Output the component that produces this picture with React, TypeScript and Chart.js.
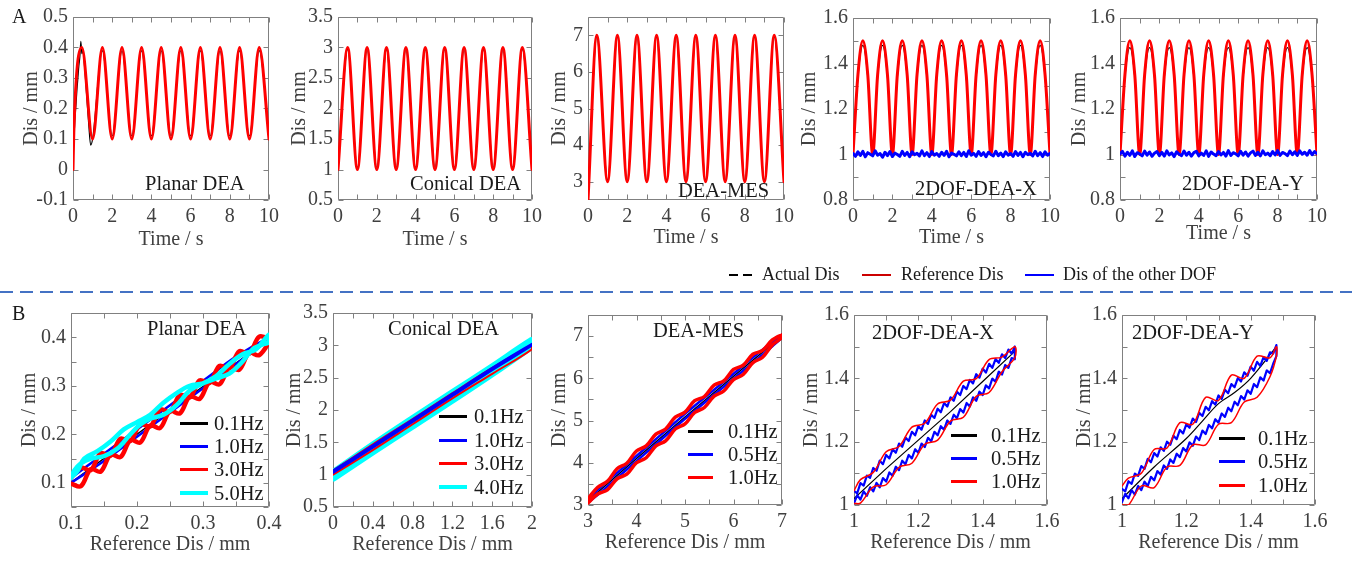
import React, { useEffect, useRef } from "react";
import { Chart, registerables } from "chart.js";
Chart.register(...registerables);

const FONT = "'Liberation Serif', 'Times New Roman', Times, serif";
const TICK_COLOR = "#404040";
const BOX_COLOR = "#808080";
const TEXT_COLOR = "#1a1a1a";
const RED = "#ff0000";
const BLUE = "#0000ff";
const CYAN = "#00ffff";
const BLACK = "#000000";

// ---------------- Row A : time responses ----------------
const timeA = [0, 0.5, 1, 1.5, 2, 2.5, 3, 3.5, 4, 4.5, 5, 5.5, 6, 6.5, 7, 7.5, 8, 8.5, 9, 9.5, 10];

const planarRefT = [0, 0.04, 0.45, 1, 1.5, 2, 2.5, 3, 3.5, 4, 4.5, 5, 5.5, 6, 6.5, 7, 7.5, 8, 8.5, 9, 9.5, 10];
const planarRef = [0, 0.12, 0.4, 0.1, 0.4, 0.1, 0.4, 0.1, 0.4, 0.1, 0.4, 0.1, 0.4, 0.1, 0.4, 0.1, 0.4, 0.1, 0.4, 0.1, 0.4, 0.1];
const planarActT = [0, 0.03, 0.06, 0.1, 0.15, 0.2, 0.25, 0.3, 0.35, 0.4, 0.45, 0.5, 0.6, 0.7, 0.8, 0.9, 1, 1.5, 2, 2.5, 3, 3.5, 4, 4.5, 5, 5.5, 6, 6.5, 7, 7.5, 8, 8.5, 9, 9.5, 10];
const planarAct = [0, 0.14, 0.12, 0.17, 0.21, 0.26, 0.3, 0.34, 0.37, 0.42, 0.38, 0.39, 0.33, 0.24, 0.15, 0.08, 0.1, 0.39, 0.11, 0.39, 0.11, 0.39, 0.11, 0.39, 0.11, 0.39, 0.11, 0.39, 0.11, 0.39, 0.11, 0.39, 0.11, 0.39, 0.11];

const conicalRef = [1, 3, 1, 3, 1, 3, 1, 3, 1, 3, 1, 3, 1, 3, 1, 3, 1, 3, 1, 3, 1];
const conicalAct = [1, 2.97, 1.03, 2.97, 1.03, 2.97, 1.03, 2.97, 1.03, 2.97, 1.03, 2.97, 1.03, 2.97, 1.03, 2.97, 1.03, 2.97, 1.03, 2.97, 1.03];

const mesT = [0, 0.45, 1, 1.5, 2, 2.5, 3, 3.5, 4, 4.5, 5, 5.5, 6, 6.5, 7, 7.5, 8, 8.5, 9, 9.5, 10];
const mesRef = [2.5, 7, 3, 7, 3, 7, 3, 7, 3, 7, 3, 7, 3, 7, 3, 7, 3, 7, 3, 7, 3];
const mesAct = [2.5, 6.95, 3.05, 6.95, 3.05, 6.95, 3.05, 6.95, 3.05, 6.95, 3.05, 6.95, 3.05, 6.95, 3.05, 6.95, 3.05, 6.95, 3.05, 6.95, 3.05];

const dofT = [0, 0.25, 0.5, 0.75, 1, 1.25, 1.5, 1.75, 2, 2.25, 2.5, 2.75, 3, 3.25, 3.5, 3.75, 4, 4.25, 4.5, 4.75, 5, 5.25, 5.5, 5.75, 6, 6.25, 6.5, 6.75, 7, 7.25, 7.5, 7.75, 8, 8.25, 8.5, 8.75, 9, 9.25, 9.5, 9.75, 10];
const dofRef = [1, 1.35, 1.5, 1.35, 1, 1.35, 1.5, 1.35, 1, 1.35, 1.5, 1.35, 1, 1.35, 1.5, 1.35, 1, 1.35, 1.5, 1.35, 1, 1.35, 1.5, 1.35, 1, 1.35, 1.5, 1.35, 1, 1.35, 1.5, 1.35, 1, 1.35, 1.5, 1.35, 1, 1.35, 1.5, 1.35, 1];
const dofXAct = [1, 1.34, 1.48, 1.34, 1, 1.34, 1.48, 1.34, 1, 1.34, 1.48, 1.34, 1, 1.34, 1.48, 1.34, 1, 1.34, 1.48, 1.34, 1, 1.34, 1.48, 1.34, 1, 1.34, 1.48, 1.34, 1, 1.34, 1.48, 1.34, 1, 1.34, 1.48, 1.34, 1, 1.34, 1.48, 1.34, 1];
const dofYAct = [1, 1.34, 1.47, 1.34, 1, 1.34, 1.47, 1.34, 1, 1.34, 1.47, 1.34, 1, 1.34, 1.47, 1.34, 1, 1.34, 1.47, 1.34, 1, 1.34, 1.47, 1.34, 1, 1.34, 1.47, 1.34, 1, 1.34, 1.47, 1.34, 1, 1.34, 1.47, 1.34, 1, 1.34, 1.47, 1.34, 1];

const NOISE_DT = 0.125; // sampling interval of the other-DOF record (s)
const dofXOther = [
  1.005, 0.992, 1.012, 0.996, 1.014, 0.990, 1.008, 1.001, 0.994, 1.016,
  0.997, 1.004, 0.988, 1.010, 0.995, 1.013, 0.991, 1.006, 1.000, 0.992,
  1.014, 0.996, 1.009, 0.990, 1.012, 0.999, 1.005, 0.994, 1.016, 0.995,
  1.008, 0.991, 1.013, 0.997, 1.004, 0.992, 1.010, 0.996, 1.014, 0.990,
  1.006, 1.001, 0.994, 1.012, 0.995, 1.009, 0.991, 1.016, 0.997, 1.005,
  0.992, 1.013, 0.996, 1.008, 0.990, 1.010, 1.000, 0.994, 1.014, 0.995,
  1.006, 0.991, 1.012, 0.997, 1.004, 0.992, 1.013, 0.996, 1.009, 0.990,
  1.010, 0.999, 1.005, 0.994, 1.014, 0.995, 1.008, 0.991, 1.012, 0.997,
  1.005,
];
const dofYOther = [
  1.002, 1.014, 0.993, 1.010, 0.996, 1.016, 0.991, 1.008, 1.003, 0.994,
  1.015, 0.997, 1.011, 0.992, 1.006, 1.013, 0.995, 1.009, 0.993, 1.016,
  0.998, 1.007, 0.991, 1.012, 1.001, 0.995, 1.015, 0.997, 1.010, 0.993,
  1.008, 1.014, 0.994, 1.006, 0.996, 1.016, 0.992, 1.011, 1.002, 0.995,
  1.013, 0.998, 1.009, 0.993, 1.017, 0.996, 1.008, 1.003, 0.994, 1.014,
  0.997, 1.011, 0.993, 1.007, 1.015, 0.996, 1.010, 0.994, 1.016, 0.999,
  1.006, 0.995, 1.013, 0.998, 1.017, 0.996, 1.009, 1.004, 0.995, 1.015,
  0.999, 1.012, 0.996, 1.016, 1.001, 1.010, 0.997, 1.017, 0.999, 1.013,
  1.004,
];
const otherT = dofXOther.map((_, i) => i * NOISE_DT);

// ---------------- Row B : actual vs reference ----------------
// Planar DEA
const b1X = [0.1, 0.115, 0.13, 0.145, 0.16, 0.175, 0.19, 0.205, 0.22, 0.235, 0.25, 0.265, 0.28, 0.295, 0.31, 0.325, 0.34, 0.355, 0.37, 0.385, 0.4];
const b1RedUp = [0.11, 0.131, 0.126, 0.161, 0.156, 0.191, 0.186, 0.221, 0.216, 0.251, 0.246, 0.281, 0.276, 0.311, 0.306, 0.341, 0.336, 0.371, 0.366, 0.401, 0.396];
const b1RedLow = [0.098, 0.093, 0.128, 0.123, 0.158, 0.153, 0.188, 0.183, 0.218, 0.213, 0.248, 0.243, 0.278, 0.273, 0.308, 0.303, 0.338, 0.333, 0.368, 0.363, 0.39];
const b1BlueX = [0.1, 0.15, 0.2, 0.25, 0.3, 0.35, 0.4];
const b1BlueUp = [0.11, 0.16, 0.21, 0.26, 0.31, 0.36, 0.4];
const b1BlueLow = [0.1, 0.145, 0.195, 0.245, 0.295, 0.345, 0.395];
const b1BlackX = [0.1, 0.25, 0.4];
const b1Black = [0.1, 0.25, 0.395];
const b1CyanX = [0.1, 0.105, 0.115, 0.13, 0.15, 0.17, 0.19, 0.205, 0.22, 0.24, 0.26, 0.28, 0.3, 0.32, 0.34, 0.36, 0.375, 0.39, 0.4, 0.4,
  0.38, 0.36, 0.34, 0.32, 0.3, 0.28, 0.26, 0.24, 0.22, 0.2, 0.18, 0.16, 0.14, 0.12, 0.11, 0.1];
const b1CyanY = [0.11, 0.125, 0.14, 0.15, 0.155, 0.17, 0.2, 0.22, 0.232, 0.24, 0.26, 0.29, 0.305, 0.315, 0.325, 0.35, 0.375, 0.385, 0.39, 0.405,
  0.375, 0.365, 0.345, 0.32, 0.305, 0.3, 0.285, 0.265, 0.24, 0.225, 0.21, 0.185, 0.165, 0.15, 0.125, 0.11];

// Conical DEA
const b2X = [0, 0.4, 0.8, 1.2, 1.6, 2];
const b2Black = [1.0, 1.4, 1.8, 2.2, 2.6, 3.0];
const b2BlueUp = [1.06, 1.45, 1.85, 2.25, 2.65, 3.02];
const b2BlueLow = [1.03, 1.42, 1.82, 2.22, 2.62, 3.0];
const b2RedUp = [1.06, 1.47, 1.86, 2.26, 2.65, 3.0];
const b2RedLow = [1.0, 1.38, 1.78, 2.18, 2.56, 2.94];
const b2CyanUp = [1.0, 1.43, 1.84, 2.24, 2.64, 3.05];
const b2CyanLow = [0.97, 1.38, 1.78, 2.18, 2.59, 3.02];

// DEA-MES
const b3X = [3.0, 3.2, 3.4, 3.6, 3.8, 4.0, 4.2, 4.4, 4.6, 4.8, 5.0, 5.2, 5.4, 5.6, 5.8, 6.0, 6.2, 6.4, 6.6, 6.8, 7.0];
const b3RedUp = [3.15, 3.42, 3.56, 3.86, 3.99, 4.28, 4.40, 4.68, 4.80, 5.08, 5.20, 5.47, 5.57, 5.84, 5.94, 6.21, 6.31, 6.57, 6.66, 6.91, 7.03];
const b3RedLow = [3.05, 3.26, 3.36, 3.62, 3.73, 4.00, 4.12, 4.40, 4.52, 4.80, 4.92, 5.19, 5.31, 5.58, 5.70, 5.97, 6.09, 6.37, 6.50, 6.79, 6.97];
const b3BlueUp = [3.14, 3.36, 3.56, 3.76, 3.96, 4.16, 4.36, 4.56, 4.76, 4.96, 5.16, 5.35, 5.54, 5.73, 5.92, 6.11, 6.3, 6.49, 6.68, 6.86, 7.03];
const b3BlueLow = [3.06, 3.24, 3.44, 3.64, 3.84, 4.04, 4.24, 4.44, 4.64, 4.84, 5.04, 5.23, 5.42, 5.61, 5.8, 5.99, 6.18, 6.37, 6.56, 6.76, 6.97];
const b3BlackX = [3, 4, 5, 6, 7];
const b3Black = [3.1, 4.1, 5.08, 6.05, 7.0];

// 2DOF-DEA-X
const b4X = [
  1.00, 1.01, 1.02, 1.03, 1.04, 1.05, 1.06, 1.07, 1.08, 1.09,
  1.10, 1.11, 1.12, 1.13, 1.14, 1.15, 1.16, 1.17, 1.18, 1.19,
  1.20, 1.21, 1.22, 1.23, 1.24, 1.25, 1.26, 1.27, 1.28, 1.29,
  1.30, 1.31, 1.32, 1.33, 1.34, 1.35, 1.36, 1.37, 1.38, 1.39,
  1.40, 1.41, 1.42, 1.43, 1.44, 1.45, 1.46, 1.47, 1.48, 1.49,
  1.50,
];
const b4BlueUp = [
  1.045, 1.037, 1.069, 1.061, 1.093, 1.086, 1.117, 1.108, 1.140, 1.129,
  1.158, 1.147, 1.176, 1.165, 1.194, 1.184, 1.213, 1.202, 1.231, 1.220,
  1.249, 1.238, 1.267, 1.256, 1.285, 1.275, 1.304, 1.293, 1.322, 1.311,
  1.340, 1.329, 1.358, 1.347, 1.376, 1.366, 1.395, 1.384, 1.413, 1.402,
  1.431, 1.418, 1.446, 1.433, 1.461, 1.449, 1.476, 1.464, 1.491, 1.478,
  1.500,
];
const b4BlueLow = [
  1.005, 1.031, 1.017, 1.043, 1.029, 1.056, 1.043, 1.070, 1.056, 1.085,
  1.074, 1.103, 1.092, 1.121, 1.110, 1.140, 1.129, 1.158, 1.147, 1.176,
  1.165, 1.194, 1.183, 1.212, 1.201, 1.231, 1.220, 1.249, 1.238, 1.267,
  1.256, 1.285, 1.274, 1.303, 1.292, 1.322, 1.311, 1.340, 1.329, 1.358,
  1.347, 1.378, 1.368, 1.399, 1.389, 1.421, 1.412, 1.442, 1.433, 1.464,
  1.460,
];
const b4RedX = [1.00, 1.02, 1.06, 1.10, 1.14, 1.18, 1.22, 1.26, 1.30, 1.34, 1.38, 1.42, 1.46, 1.50];
const b4RedUp = [1.045, 1.080, 1.103, 1.168, 1.185, 1.246, 1.258, 1.319, 1.331, 1.391, 1.399, 1.459, 1.467, 1.500];
const b4RedLow = [1.005, 1.006, 1.057, 1.064, 1.119, 1.132, 1.192, 1.205, 1.265, 1.277, 1.343, 1.355, 1.421, 1.465];
const b4BlackX = [1, 1.1, 1.2, 1.3, 1.4, 1.5];
const b4Black = [1.02, 1.115, 1.205, 1.295, 1.39, 1.485];

// 2DOF-DEA-Y
const b5X = [
  1.00, 1.01, 1.02, 1.03, 1.04, 1.05, 1.06, 1.07, 1.08, 1.09,
  1.10, 1.11, 1.12, 1.13, 1.14, 1.15, 1.16, 1.17, 1.18, 1.19,
  1.20, 1.21, 1.22, 1.23, 1.24, 1.25, 1.26, 1.27, 1.28, 1.29,
  1.30, 1.31, 1.32, 1.33, 1.34, 1.35, 1.36, 1.37, 1.38, 1.39,
  1.40, 1.41, 1.42, 1.43, 1.44, 1.45, 1.46, 1.47, 1.48,
];
const b5BlueUp = [
  1.051, 1.043, 1.075, 1.067, 1.099, 1.092, 1.123, 1.114, 1.146, 1.135,
  1.164, 1.153, 1.182, 1.171, 1.200, 1.190, 1.219, 1.208, 1.237, 1.226,
  1.255, 1.244, 1.273, 1.262, 1.291, 1.281, 1.310, 1.299, 1.328, 1.317,
  1.346, 1.335, 1.364, 1.353, 1.382, 1.372, 1.401, 1.390, 1.419, 1.408,
  1.437, 1.424, 1.452, 1.439, 1.467, 1.455, 1.482, 1.478, 1.505,
];
const b5BlueLow = [
  1.009, 1.035, 1.021, 1.047, 1.033, 1.060, 1.047, 1.074, 1.060, 1.089,
  1.078, 1.107, 1.096, 1.125, 1.114, 1.144, 1.133, 1.162, 1.151, 1.180,
  1.169, 1.198, 1.187, 1.216, 1.205, 1.235, 1.224, 1.253, 1.242, 1.271,
  1.260, 1.289, 1.278, 1.307, 1.296, 1.326, 1.315, 1.344, 1.333, 1.362,
  1.351, 1.382, 1.372, 1.403, 1.393, 1.425, 1.416, 1.446, 1.470,
];
const b5RedX = [1.00, 1.02, 1.06, 1.10, 1.14, 1.18, 1.22, 1.26, 1.30, 1.34, 1.38, 1.42, 1.46, 1.48];
const b5RedUp = [1.06, 1.085, 1.10, 1.175, 1.18, 1.26, 1.255, 1.34, 1.33, 1.41, 1.40, 1.47, 1.465, 1.50];
const b5RedLow = [1.0, 1.0, 1.06, 1.055, 1.12, 1.125, 1.19, 1.19, 1.255, 1.26, 1.325, 1.34, 1.405, 1.47];
const b5BlackX = [1, 1.1, 1.2, 1.25, 1.3, 1.35, 1.4, 1.48];
const b5Black = [1.02, 1.12, 1.21, 1.265, 1.32, 1.355, 1.40, 1.50];

// ---------------- tick labels ----------------
const timeTicks = [0, 1, 2, 3, 4, 5, 6, 7, 8, 9, 10];
const timeLabels = ["0", "", "2", "", "4", "", "6", "", "8", "", "10"];

// ---------------- helpers ----------------
type Curve = "mono" | "smooth" | "straight";
interface Trace { xs: number[]; ys: number[]; color: string; width: number; curve: Curve; }
const trace = (xs: number[], ys: number[], color: string, width: number, curve: Curve): Trace => ({ xs, ys, color, width, curve });
const loop = (xs: number[], up: number[], low: number[], color: string, width: number, curve: Curve): Trace => ({
  xs: [...xs, ...xs.slice().reverse()],
  ys: [...up, ...low.slice().reverse()],
  color, width, curve,
});

interface PanelSpec {
  plot: [number, number, number, number];
  yTitleDist: number;
  xTitleDist: number;
  xr: [number, number];
  yr: [number, number];
  xTicks: number[]; xLabels: string[];
  yTicks: number[]; yLabels: string[];
  xTitle: string; yTitle: string;
  traces: Trace[]; // first = drawn on top
}

const boxPlugin = {
  id: "matlabBox",
  beforeDatasetsDraw(chart: any) {
    const { ctx, chartArea: a, scales } = chart;
    const L = Math.round(a.left) + 0.5, R = Math.round(a.right) - 0.5;
    const T = Math.round(a.top) + 0.5, B = Math.round(a.bottom) - 0.5;
    const len = 5;
    ctx.save();
    ctx.strokeStyle = BOX_COLOR;
    ctx.lineWidth = 1;
    ctx.beginPath();
    ctx.rect(L, T, R - L, B - T);
    for (const tk of scales.x.ticks) {
      const p = Math.round(scales.x.getPixelForValue(tk.value)) + 0.5;
      ctx.moveTo(p, B); ctx.lineTo(p, B - len);
      ctx.moveTo(p, T); ctx.lineTo(p, T + len);
    }
    for (const tk of scales.y.ticks) {
      const p = Math.round(scales.y.getPixelForValue(tk.value)) + 0.5;
      ctx.moveTo(L, p); ctx.lineTo(L + len, p);
      ctx.moveTo(R, p); ctx.lineTo(R - len, p);
    }
    ctx.stroke();
    ctx.restore();
  },
};

const PAD_T = 14;
const PAD_R = 20;

function Panel({ spec }: { spec: PanelSpec }) {
  const ref = useRef<HTMLCanvasElement>(null);
  const [l, t, r, b] = spec.plot;
  const yW = spec.yTitleDist + 14;
  const xH = spec.xTitleDist + 12;
  const left = l - yW;
  const top = t - PAD_T;
  const width = r - l + yW + PAD_R;
  const height = b - t + PAD_T + xH;

  useEffect(() => {
    const font = { family: FONT, size: 20, lineHeight: 1.2 };
    const chart = new Chart(ref.current as HTMLCanvasElement, {
      type: "line",
      data: {
        datasets: spec.traces.map((tr) => ({
          data: tr.xs.map((x, i) => ({ x, y: tr.ys[i] })),
          borderColor: tr.color,
          backgroundColor: tr.color,
          borderWidth: tr.width,
          pointRadius: 0,
          fill: false,
          tension: tr.curve === "smooth" ? 0.35 : 0,
          cubicInterpolationMode: tr.curve === "mono" ? "monotone" : "default",
          borderCapStyle: "round",
          borderJoinStyle: "round",
        })),
      } as any,
      options: {
        responsive: false,
        animation: false,
        events: [],
        devicePixelRatio: 1,
        layout: { padding: { left: 0, top: PAD_T, right: PAD_R, bottom: 0 } },
        plugins: { legend: { display: false }, tooltip: { enabled: false } },
        scales: {
          x: {
            type: "linear",
            position: "bottom",
            min: spec.xr[0],
            max: spec.xr[1],
            grid: { display: false, drawTicks: false },
            border: { display: false },
            afterBuildTicks: (s: any) => { s.ticks = spec.xTicks.map((v) => ({ value: v })); },
            afterFit: (s: any) => { s.height = xH; },
            ticks: {
              font, color: TICK_COLOR, padding: 5, autoSkip: false, maxRotation: 0, minRotation: 0,
              callback: (_v: any, i: number) => spec.xLabels[i],
            },
            title: { display: true, text: spec.xTitle, font, color: TICK_COLOR, padding: { top: 0, bottom: 0 } },
          },
          y: {
            type: "linear",
            position: "left",
            min: spec.yr[0],
            max: spec.yr[1],
            grid: { display: false, drawTicks: false },
            border: { display: false },
            afterBuildTicks: (s: any) => { s.ticks = spec.yTicks.map((v) => ({ value: v })); },
            afterFit: (s: any) => { s.width = yW; },
            ticks: {
              font, color: TICK_COLOR, padding: 5, autoSkip: false,
              callback: (_v: any, i: number) => spec.yLabels[i],
            },
            title: { display: true, text: spec.yTitle, font, color: TICK_COLOR, padding: { top: 2, bottom: 0 } },
          },
        },
      } as any,
      plugins: [boxPlugin],
    });
    return () => chart.destroy();
  }, []);

  return (
    <canvas
      ref={ref}
      width={width}
      height={height}
      style={{ position: "absolute", left, top, width, height, display: "block" }}
    />
  );
}

const DIS = "Dis / mm";
const TIME = "Time / s";
const REF = "Reference Dis / mm";

const panels: PanelSpec[] = [
  {
    plot: [73, 14, 269, 200], yTitleDist: 41, xTitleDist: 40, xr: [0, 10], yr: [-0.1, 0.5],
    xTicks: timeTicks, xLabels: timeLabels,
    yTicks: [-0.1, 0, 0.1, 0.2, 0.3, 0.4, 0.5], yLabels: ["-0.1", "0", "0.1", "0.2", "0.3", "0.4", "0.5"],
    xTitle: TIME, yTitle: DIS,
    traces: [trace(planarRefT, planarRef, RED, 3, "mono"), trace(planarActT, planarAct, BLACK, 1.2, "mono")],
  },
  {
    plot: [338, 14, 532, 200], yTitleDist: 38, xTitleDist: 40, xr: [0, 10], yr: [0.5, 3.5],
    xTicks: timeTicks, xLabels: timeLabels,
    yTicks: [0.5, 1, 1.5, 2, 2.5, 3, 3.5], yLabels: ["0.5", "1", "1.5", "2", "2.5", "3", "3.5"],
    xTitle: TIME, yTitle: DIS,
    traces: [trace(timeA, conicalRef, RED, 3, "mono"), trace(timeA, conicalAct, BLACK, 1.2, "mono")],
  },
  {
    plot: [588, 14, 784, 200], yTitleDist: 28, xTitleDist: 38, xr: [0, 10], yr: [2.5, 7.5],
    xTicks: timeTicks, xLabels: timeLabels,
    yTicks: [3, 4, 5, 6, 7], yLabels: ["3", "4", "5", "6", "7"],
    xTitle: TIME, yTitle: DIS,
    traces: [trace(mesT, mesRef, RED, 3, "mono"), trace(mesT, mesAct, BLACK, 1.2, "mono")],
  },
  {
    plot: [853, 15, 1050, 200], yTitleDist: 43, xTitleDist: 38, xr: [0, 10], yr: [0.8, 1.6],
    xTicks: timeTicks, xLabels: timeLabels,
    yTicks: [0.8, 0.9, 1, 1.1, 1.2, 1.3, 1.4, 1.5, 1.6], yLabels: ["0.8", "", "1", "", "1.2", "", "1.4", "", "1.6"],
    xTitle: TIME, yTitle: DIS,
    traces: [
      trace(otherT, dofXOther, BLUE, 3, "straight"),
      trace(dofT, dofRef, RED, 3, "mono"),
      trace(dofT, dofXAct, BLACK, 1.2, "mono"),
    ],
  },
  {
    plot: [1120, 15, 1317, 200], yTitleDist: 40, xTitleDist: 34, xr: [0, 10], yr: [0.8, 1.6],
    xTicks: timeTicks, xLabels: timeLabels,
    yTicks: [0.8, 0.9, 1, 1.1, 1.2, 1.3, 1.4, 1.5, 1.6], yLabels: ["0.8", "", "1", "", "1.2", "", "1.4", "", "1.6"],
    xTitle: TIME, yTitle: DIS,
    traces: [
      trace(otherT, dofYOther, BLUE, 3, "straight"),
      trace(dofT, dofRef, RED, 3, "mono"),
      trace(dofT, dofYAct, BLACK, 1.2, "mono"),
    ],
  },
  {
    plot: [71, 310, 269, 507], yTitleDist: 41, xTitleDist: 38, xr: [0.1, 0.4], yr: [0.05, 0.45],
    xTicks: [0.1, 0.15, 0.2, 0.25, 0.3, 0.35, 0.4], xLabels: ["0.1", "", "0.2", "", "0.3", "", "0.4"],
    yTicks: [0.05, 0.1, 0.15, 0.2, 0.25, 0.3, 0.35, 0.4, 0.45], yLabels: ["", "0.1", "", "0.2", "", "0.3", "", "0.4", ""],
    xTitle: REF, yTitle: DIS,
    traces: [
      trace(b1CyanX, b1CyanY, CYAN, 4.5, "smooth"),
      loop(b1X, b1RedUp, b1RedLow, RED, 4.5, "smooth"),
      loop(b1BlueX, b1BlueUp, b1BlueLow, BLUE, 2.5, "smooth"),
      trace(b1BlackX, b1Black, BLACK, 1.5, "straight"),
    ],
  },
  {
    plot: [333, 310, 532, 507], yTitleDist: 38, xTitleDist: 38, xr: [0, 2], yr: [0.5, 3.5],
    xTicks: [0, 0.2, 0.4, 0.6, 0.8, 1, 1.2, 1.4, 1.6, 1.8, 2], xLabels: ["0", "", "0.4", "", "0.8", "", "1.2", "", "1.6", "", "2"],
    yTicks: [0.5, 1, 1.5, 2, 2.5, 3, 3.5], yLabels: ["0.5", "1", "1.5", "2", "2.5", "3", "3.5"],
    xTitle: REF, yTitle: DIS,
    traces: [
      loop(b2X, b2BlueUp, b2BlueLow, BLUE, 2.5, "smooth"),
      loop(b2X, b2RedUp, b2RedLow, RED, 2, "smooth"),
      loop(b2X, b2CyanUp, b2CyanLow, CYAN, 10, "smooth"),
      trace(b2X, b2Black, BLACK, 1.5, "straight"),
    ],
  },
  {
    plot: [588, 312, 782, 505], yTitleDist: 28, xTitleDist: 38, xr: [3, 7], yr: [3, 7.5],
    xTicks: [3, 3.5, 4, 4.5, 5, 5.5, 6, 6.5, 7], xLabels: ["3", "", "4", "", "5", "", "6", "", "7"],
    yTicks: [3, 3.5, 4, 4.5, 5, 5.5, 6, 6.5, 7, 7.5], yLabels: ["3", "", "4", "", "5", "", "6", "", "7", ""],
    xTitle: REF, yTitle: DIS,
    traces: [
      loop(b3X, b3RedUp, b3RedLow, RED, 3.5, "smooth"),
      loop(b3X, b3BlueUp, b3BlueLow, BLUE, 2.5, "smooth"),
      trace(b3BlackX, b3Black, BLACK, 1.5, "straight"),
    ],
  },
  {
    plot: [854, 312, 1047, 505], yTitleDist: 42, xTitleDist: 38, xr: [1, 1.6], yr: [1, 1.6],
    xTicks: [1, 1.1, 1.2, 1.3, 1.4, 1.5, 1.6], xLabels: ["1", "", "1.2", "", "1.4", "", "1.6"],
    yTicks: [1, 1.1, 1.2, 1.3, 1.4, 1.5, 1.6], yLabels: ["1", "", "1.2", "", "1.4", "", "1.6"],
    xTitle: REF, yTitle: DIS,
    traces: [
      loop(b4RedX, b4RedUp, b4RedLow, RED, 1.5, "smooth"),
      loop(b4X, b4BlueUp, b4BlueLow, BLUE, 2.2, "straight"),
      trace(b4BlackX, b4Black, BLACK, 1.2, "straight"),
    ],
  },
  {
    plot: [1122, 312, 1315, 505], yTitleDist: 37, xTitleDist: 38, xr: [1, 1.6], yr: [1, 1.6],
    xTicks: [1, 1.1, 1.2, 1.3, 1.4, 1.5, 1.6], xLabels: ["1", "", "1.2", "", "1.4", "", "1.6"],
    yTicks: [1, 1.1, 1.2, 1.3, 1.4, 1.5, 1.6], yLabels: ["1", "", "1.2", "", "1.4", "", "1.6"],
    xTitle: REF, yTitle: DIS,
    traces: [
      loop(b5RedX, b5RedUp, b5RedLow, RED, 1.5, "smooth"),
      loop(b5X, b5BlueUp, b5BlueLow, BLUE, 2.2, "straight"),
      trace(b5BlackX, b5Black, BLACK, 1.2, "smooth"),
    ],
  },
];

// ---------------- overlays ----------------
const annotations: { text: string; x: number; cy: number }[] = [
  { text: "Planar DEA", x: 145, cy: 183 },
  { text: "Conical DEA", x: 410, cy: 183 },
  { text: "DEA-MES", x: 678, cy: 190 },
  { text: "2DOF-DEA-X", x: 915, cy: 188 },
  { text: "2DOF-DEA-Y", x: 1182, cy: 183 },
  { text: "Planar DEA", x: 147, cy: 328 },
  { text: "Conical DEA", x: 388, cy: 328 },
  { text: "DEA-MES", x: 653, cy: 330 },
  { text: "2DOF-DEA-X", x: 872, cy: 332 },
  { text: "2DOF-DEA-Y", x: 1132, cy: 332 },
];

const freqsB1 = ["0.1Hz", "1.0Hz", "3.0Hz", "5.0Hz"];
const freqsB2 = ["0.1Hz", "1.0Hz", "3.0Hz", "4.0Hz"];
const freqsB3 = ["0.1Hz", "0.5Hz", "1.0Hz"];

const legendsB: { x1: number; x2: number; tx: number; rows: number[]; labels: string[]; colors: string[]; widths: number[] }[] = [
  { x1: 180, x2: 208, tx: 214, rows: [423, 446, 469, 493], labels: freqsB1, colors: [BLACK, BLUE, RED, CYAN], widths: [3, 3, 3, 4] },
  { x1: 439, x2: 467, tx: 474, rows: [416, 440, 463, 487], labels: freqsB2, colors: [BLACK, BLUE, RED, CYAN], widths: [3, 3, 3, 4] },
  { x1: 688, x2: 713, tx: 728, rows: [431, 454, 477], labels: freqsB3, colors: [BLACK, BLUE, RED], widths: [3, 3, 3] },
  { x1: 951, x2: 977, tx: 991, rows: [435, 458, 481], labels: freqsB3, colors: [BLACK, BLUE, RED], widths: [3, 3, 3] },
  { x1: 1219, x2: 1245, tx: 1258, rows: [438, 461, 485], labels: freqsB3, colors: [BLACK, BLUE, RED], widths: [3, 3, 3] },
];

function Txt({ x, cy, text, size, color }: { x: number; cy: number; text: string; size: number; color: string }) {
  return (
    <div style={{ position: "absolute", left: x, top: cy - size / 2, font: `${size}px ${FONT}`, lineHeight: 1, color, whiteSpace: "nowrap" }}>
      {text}
    </div>
  );
}

function HLine({ x1, x2, y, color, w, dash }: { x1: number; x2: number; y: number; color: string; w: number; dash?: [number, number] }) {
  const bg = dash
    ? `repeating-linear-gradient(90deg, ${color} 0 ${dash[0]}px, transparent ${dash[0]}px ${dash[0] + dash[1]}px)`
    : color;
  return <div style={{ position: "absolute", left: x1, top: y - w / 2, width: x2 - x1, height: w, background: bg }} />;
}

export default function App() {
  return (
    <div style={{ position: "absolute", left: 0, top: 0, width: 1360, height: 563, background: "#ffffff", overflow: "hidden" }}>
      {panels.map((p, i) => (
        <Panel key={i} spec={p} />
      ))}
      {annotations.map((a, i) => (
        <Txt key={"an" + i} x={a.x} cy={a.cy} text={a.text} size={20.5} color={TEXT_COLOR} />
      ))}
      {legendsB.map((lg, i) => (
        <React.Fragment key={"lg" + i}>
          {lg.labels.map((lab, j) => (
            <React.Fragment key={j}>
              <HLine x1={lg.x1} x2={lg.x2} y={lg.rows[j]} color={lg.colors[j]} w={lg.widths[j]} />
              <Txt x={lg.tx} cy={lg.rows[j]} text={lab} size={20.5} color={TEXT_COLOR} />
            </React.Fragment>
          ))}
        </React.Fragment>
      ))}
      <Txt x={12} cy={16} text="A" size={20} color={TEXT_COLOR} />
      <Txt x={12} cy={313} text="B" size={20} color={TEXT_COLOR} />
      {/* top legend */}
      <HLine x1={729} x2={752} y={275} color={BLACK} w={2.5} dash={[9, 5]} />
      <Txt x={762} cy={274} text="Actual Dis" size={18} color={TEXT_COLOR} />
      <HLine x1={862} x2={891} y={275} color="#cc0000" w={2.5} />
      <Txt x={901} cy={274} text="Reference Dis" size={18} color={TEXT_COLOR} />
      <HLine x1={1025} x2={1054} y={275} color={BLUE} w={2.5} />
      <Txt x={1063} cy={274} text="Dis of the other DOF" size={18} color={TEXT_COLOR} />
      {/* dashed separator */}
      <HLine x1={0} x2={1352} y={292} color="#4472c4" w={2} dash={[13, 7]} />
    </div>
  );
}
